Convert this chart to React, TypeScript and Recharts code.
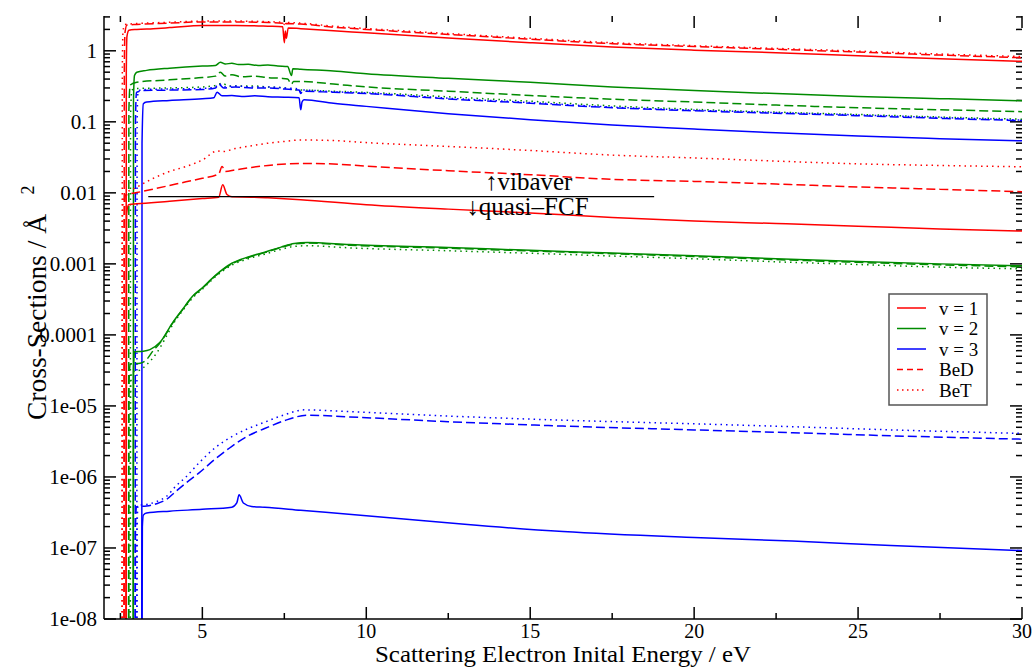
import React from 'react';
import { LineChart, Line, XAxis, YAxis, Legend, ReferenceLine, ReferenceDot } from 'recharts';

type Pt = [number, number];

// ---------- vibaver group (upper curves) ----------
const vibV1: Pt[] = [[2.67, 1e-10], [2.68, 0.5], [2.7, 1.6], [2.76, 1.95], [3.0, 2.0], [3.5, 2.05], [4.0, 2.12], [5.0, 2.28], [6.0, 2.28], [7.0, 2.22], [7.45, 2.18], [7.5, 1.3], [7.53, 1.9], [7.56, 1.5], [7.62, 2.1], [8.0, 2.05], [9.0, 1.92], [10, 1.79], [12.5, 1.52], [15, 1.3], [17.5, 1.13], [20, 1.02], [22.5, 0.94], [25, 0.85], [27.5, 0.77], [30, 0.71]];
const vibBeD1: Pt[] = [[2.61, 1e-10], [2.62, 0.6], [2.64, 1.8], [2.7, 2.3], [3.0, 2.35], [4.0, 2.45], [5.0, 2.55], [6.0, 2.55], [7.0, 2.5], [7.45, 2.45], [7.5, 2.25], [7.55, 2.42], [8.0, 2.38], [9.0, 2.15], [10, 2.0], [12.5, 1.7], [15, 1.46], [17.5, 1.26], [20, 1.15], [22.5, 1.05], [25, 0.96], [27.5, 0.87], [30, 0.8]];
const vibBeT1: Pt[] = [[2.55, 1e-10], [2.56, 0.6], [2.58, 1.9], [2.64, 2.35], [3.0, 2.42], [4.0, 2.52], [5.0, 2.62], [6.0, 2.62], [7.0, 2.57], [7.45, 2.52], [7.5, 2.35], [7.55, 2.5], [8.0, 2.45], [9.0, 2.22], [10, 2.06], [12.5, 1.75], [15, 1.5], [17.5, 1.3], [20, 1.18], [22.5, 1.08], [25, 0.99], [27.5, 0.9], [30, 0.83]];
const vibV2: Pt[] = [[2.89, 1e-10], [2.9, 0.2], [2.93, 0.45], [3.0, 0.5], [3.3, 0.53], [4.0, 0.57], [5.0, 0.61], [5.4, 0.62], [5.55, 0.69], [5.7, 0.65], [5.9, 0.67], [6.1, 0.64], [6.4, 0.645], [6.7, 0.62], [7.0, 0.63], [7.3, 0.61], [7.6, 0.6], [7.72, 0.45], [7.76, 0.56], [8.0, 0.55], [9.0, 0.52], [10, 0.475], [12.5, 0.41], [15, 0.36], [17.5, 0.31], [20, 0.275], [22.5, 0.25], [25, 0.228], [27.5, 0.212], [30, 0.198]];
const vibBeD2: Pt[] = [[2.75, 1e-10], [2.76, 0.15], [2.8, 0.33], [3.0, 0.36], [4.0, 0.39], [5.0, 0.42], [5.4, 0.44], [5.55, 0.5], [5.7, 0.44], [5.9, 0.46], [6.2, 0.43], [6.6, 0.44], [7.0, 0.42], [7.4, 0.41], [7.6, 0.4], [7.72, 0.34], [7.78, 0.37], [8.0, 0.37], [9.0, 0.34], [10, 0.31], [12.5, 0.27], [15, 0.235], [17.5, 0.208], [20, 0.19], [22.5, 0.172], [25, 0.158], [27.5, 0.148], [30, 0.139]];
const vibBeT2: Pt[] = [[2.8, 1e-10], [2.81, 0.12], [2.85, 0.28], [3.0, 0.295], [4.0, 0.3], [5.0, 0.31], [5.45, 0.33], [5.6, 0.35], [5.8, 0.32], [6.5, 0.32], [7.0, 0.31], [7.5, 0.3], [7.72, 0.285], [7.8, 0.28], [8.0, 0.28], [9.0, 0.27], [10, 0.26], [12.5, 0.225], [15, 0.195], [17.5, 0.168], [20, 0.15], [22.5, 0.137], [25, 0.127], [27.5, 0.117], [30, 0.109]];
const vibV3: Pt[] = [[3.15, 1e-10], [3.16, 0.05], [3.2, 0.18], [3.3, 0.19], [4.0, 0.2], [5.0, 0.211], [5.35, 0.218], [5.45, 0.26], [5.6, 0.232], [5.9, 0.235], [6.2, 0.228], [6.6, 0.232], [7.0, 0.225], [7.5, 0.222], [7.95, 0.218], [8.0, 0.148], [8.04, 0.19], [8.1, 0.205], [9.0, 0.182], [10, 0.165], [12.5, 0.13], [15, 0.107], [17.5, 0.09], [20, 0.079], [22.5, 0.07], [25, 0.063], [27.5, 0.058], [30, 0.054]];
const vibBeD3: Pt[] = [[2.95, 1e-10], [2.96, 0.1], [2.99, 0.26], [3.2, 0.275], [4.0, 0.28], [5.0, 0.285], [5.4, 0.3], [5.5, 0.34], [5.65, 0.3], [6.0, 0.31], [6.5, 0.3], [7.0, 0.3], [7.5, 0.29], [7.95, 0.28], [8.0, 0.25], [8.05, 0.27], [9.0, 0.26], [10, 0.25], [12.5, 0.21], [15, 0.183], [17.5, 0.158], [20, 0.143], [22.5, 0.132], [25, 0.122], [27.5, 0.112], [30, 0.104]];
const vibBeT3: Pt[] = [[3.0, 1e-10], [3.01, 0.1], [3.04, 0.27], [3.2, 0.285], [4.0, 0.29], [5.0, 0.295], [5.4, 0.31], [5.5, 0.345], [5.65, 0.31], [6.0, 0.32], [6.5, 0.31], [7.0, 0.31], [7.5, 0.3], [7.95, 0.29], [8.0, 0.26], [8.05, 0.28], [9.0, 0.265], [10, 0.255], [12.5, 0.215], [15, 0.187], [17.5, 0.161], [20, 0.146], [22.5, 0.135], [25, 0.125], [27.5, 0.115], [30, 0.106]];

// ---------- quasi-FCF group (lower curves) ----------
const fcfV1: Pt[] = [[2.67, 1e-10], [2.69, 0.005], [2.75, 0.0068], [3.0, 0.007], [4.0, 0.0076], [5.0, 0.0083], [5.5, 0.0087], [5.62, 0.013], [5.75, 0.0095], [5.9, 0.0088], [6.5, 0.0087], [7.0, 0.0085], [8.0, 0.008], [10, 0.0068], [12.5, 0.0059], [15, 0.0052], [17.5, 0.0045], [20, 0.004], [22.5, 0.0037], [25, 0.0034], [27.5, 0.0031], [30, 0.0029]];
const fcfBeD1: Pt[] = [[2.61, 1e-10], [2.62, 0.004], [2.65, 0.0092], [2.8, 0.0097], [3.0, 0.0101], [3.5, 0.0113], [4.0, 0.0127], [4.5, 0.0143], [5.0, 0.016], [5.5, 0.0185], [5.6, 0.0235], [5.7, 0.02], [6.0, 0.021], [6.5, 0.0228], [7.0, 0.0243], [8.0, 0.026], [9.0, 0.0255], [10, 0.0238], [12.5, 0.0205], [15, 0.018], [17.5, 0.0155], [20, 0.0145], [22.5, 0.0133], [25, 0.0121], [27.5, 0.0112], [30, 0.0104]];
const fcfBeT1: Pt[] = [[2.55, 1e-10], [2.56, 0.004], [2.6, 0.0092], [3.0, 0.012], [3.5, 0.016], [4.0, 0.02], [4.5, 0.0235], [5.0, 0.029], [5.47, 0.039], [5.6, 0.038], [6.0, 0.042], [6.5, 0.046], [7.0, 0.05], [7.5, 0.053], [8.0, 0.0555], [9.0, 0.0545], [10, 0.051], [12.5, 0.045], [15, 0.0395], [17.5, 0.034], [20, 0.031], [22.5, 0.028], [25, 0.0256], [27.5, 0.0243], [30, 0.0233]];
const fcfV2: Pt[] = [[2.89, 1e-10], [2.9, 3e-5], [2.93, 5.8e-5], [3.2, 5.9e-5], [3.4, 6.2e-5], [3.7, 7.8e-5], [4.1, 1.5e-4], [4.4, 2.3e-4], [4.7, 3.5e-4], [5.0, 4.6e-4], [5.4, 6.9e-4], [5.9, 1.02e-3], [6.4, 1.25e-3], [6.9, 1.46e-3], [7.4, 1.72e-3], [7.8, 1.93e-3], [8.2, 2.0e-3], [9.5, 1.87e-3], [12.5, 1.7e-3], [15, 1.55e-3], [17.5, 1.42e-3], [20, 1.3e-3], [22.5, 1.18e-3], [25, 1.08e-3], [27.5, 1.0e-3], [30, 9.4e-4]];
const fcfBeD2: Pt[] = [[2.75, 1e-10], [2.76, 2e-5], [2.8, 3.9e-5], [3.1, 4.0e-5], [3.3, 4.5e-5], [3.5, 6.0e-5], [3.7, 7.6e-5], [4.1, 1.48e-4], [4.4, 2.28e-4], [4.7, 3.45e-4], [5.0, 4.55e-4], [5.4, 6.8e-4], [5.9, 1.0e-3], [6.4, 1.23e-3], [6.9, 1.44e-3], [7.4, 1.7e-3], [7.8, 1.9e-3], [8.2, 1.96e-3], [9.5, 1.83e-3], [12.5, 1.66e-3], [15, 1.52e-3], [17.5, 1.39e-3], [20, 1.27e-3], [22.5, 1.15e-3], [25, 1.05e-3], [27.5, 9.7e-4], [30, 9.1e-4]];
const fcfBeT2: Pt[] = [[2.8, 1e-10], [2.81, 1.5e-5], [2.85, 3.0e-5], [3.1, 3.2e-5], [3.3, 3.8e-5], [3.6, 5.5e-5], [3.9, 9.5e-5], [4.1, 1.4e-4], [4.4, 2.2e-4], [4.7, 3.3e-4], [5.0, 4.4e-4], [5.4, 6.6e-4], [5.9, 9.6e-4], [6.4, 1.18e-3], [6.9, 1.37e-3], [7.4, 1.6e-3], [7.8, 1.76e-3], [8.2, 1.8e-3], [9.5, 1.68e-3], [12.5, 1.53e-3], [15, 1.41e-3], [17.5, 1.29e-3], [20, 1.18e-3], [22.5, 1.07e-3], [25, 9.8e-4], [27.5, 9.0e-4], [30, 8.5e-4]];
const fcfV3: Pt[] = [[3.15, 1e-10], [3.17, 2.0e-7], [3.2, 2.9e-7], [3.3, 3.1e-7], [4.0, 3.3e-7], [5.0, 3.5e-7], [5.9, 3.75e-7], [6.05, 4.3e-7], [6.12, 5.6e-7], [6.25, 4.3e-7], [6.5, 3.85e-7], [6.9, 3.75e-7], [8.0, 3.4e-7], [10, 2.85e-7], [13, 2.15e-7], [16, 1.7e-7], [20, 1.4e-7], [23, 1.25e-7], [26, 1.08e-7], [30, 9.2e-8]];
const fcfBeD3: Pt[] = [[2.95, 1e-10], [2.96, 2e-7], [2.99, 3.8e-7], [3.3, 3.9e-7], [3.6, 4.2e-7], [3.9, 4.8e-7], [4.2, 6.3e-7], [4.5, 8.2e-7], [4.9, 1.14e-6], [5.4, 1.8e-6], [5.9, 2.7e-6], [6.4, 3.8e-6], [6.9, 4.8e-6], [7.5, 6.2e-6], [8.2, 7.4e-6], [9.5, 7.0e-6], [12.5, 6.0e-6], [16, 5.2e-6], [20, 4.6e-6], [23, 4.2e-6], [26, 3.8e-6], [30, 3.4e-6]];
const fcfBeT3: Pt[] = [[3.0, 1e-10], [3.01, 2e-7], [3.04, 4.0e-7], [3.3, 4.1e-7], [3.6, 4.5e-7], [3.9, 5.3e-7], [4.2, 7.5e-7], [4.5, 1.0e-6], [4.9, 1.58e-6], [5.4, 2.6e-6], [5.9, 3.7e-6], [6.4, 4.8e-6], [6.9, 5.9e-6], [7.5, 7.5e-6], [8.1, 8.8e-6], [9.5, 8.3e-6], [12.5, 7.2e-6], [16, 6.3e-6], [20, 5.6e-6], [23, 5.1e-6], [26, 4.6e-6], [30, 4.1e-6]];

// ---------- axes ----------
const X_DOMAIN: [number, number] = [2, 30];
const xMajorTicks = [5, 10, 15, 20, 25, 30];
const xMinorTicks = [2.5, 7.5, 12.5, 17.5, 22.5, 27.5];
const Y_DOMAIN: [number, number] = [1e-8, 3.09];
const yMajorTicks = [1e-8, 1e-7, 1e-6, 1e-5, 1e-4, 1e-3, 1e-2, 1e-1, 1];
const yTickLabels = ['1e-08', '1e-07', '1e-06', '1e-05', '0.0001', '0.001', '0.01', '0.1', '1'];
const yMinorMultipliers = [2, 3, 4, 5, 6, 7, 8, 9];
const yMinorTicks: number[] = [];
yMajorTicks.forEach((d) => yMinorMultipliers.forEach((m) => { if (m * d <= Y_DOMAIN[1]) yMinorTicks.push(m * d); }));

// ---------- chart geometry (style) ----------
const CHART_W = 1036;
const CHART_H = 669;
const MARGIN = { top: 16, right: 14, bottom: 0, left: 0 };
const Y_AXIS_W = 104;
const X_AXIS_H = 50;
const PLOT_W = CHART_W - MARGIN.left - MARGIN.right - Y_AXIS_W;
const PLOT_H = CHART_H - MARGIN.top - MARGIN.bottom - X_AXIS_H;
const PX_PER_X = PLOT_W / (X_DOMAIN[1] - X_DOMAIN[0]);
const PX_PER_DECADE = PLOT_H / Math.log10(Y_DOMAIN[1] / Y_DOMAIN[0]);
const MAJOR_LEN = 12;
const MINOR_LEN = 6;

// inward tick marks (drawn through the chart's scales as reference segments)
type Seg = [{ x: number; y: number }, { x: number; y: number }];
const tickSegs: Seg[] = [];
const pushX = (t: number, len: number) => {
  const f = Math.pow(10, len / PX_PER_DECADE);
  tickSegs.push([{ x: t, y: Y_DOMAIN[0] }, { x: t, y: Y_DOMAIN[0] * f }]);
  tickSegs.push([{ x: t, y: Y_DOMAIN[1] }, { x: t, y: Y_DOMAIN[1] / f }]);
};
const pushY = (v: number, len: number) => {
  const dx = len / PX_PER_X;
  tickSegs.push([{ x: X_DOMAIN[0], y: v }, { x: X_DOMAIN[0] + dx, y: v }]);
  tickSegs.push([{ x: X_DOMAIN[1] - dx, y: v }, { x: X_DOMAIN[1], y: v }]);
};
xMajorTicks.forEach((t) => pushX(t, MAJOR_LEN));
xMinorTicks.forEach((t) => pushX(t, MINOR_LEN));
yMajorTicks.forEach((v) => pushY(v, MAJOR_LEN));
yMinorTicks.forEach((v) => pushY(v, MINOR_LEN));

// ---------- annotation ----------
const dividerY = 0.00887;
const dividerX: [number, number] = [3.35, 18.78];
const vibaverPos = { x: 13.62, y: 0.011 };
const fcfPos = { x: 13.05, y: 0.00482 };

// ---------- legend ----------
const legendLabels = ['v = 1', 'v = 2', 'v = 3', 'BeD', 'BeT'];

const RED = '#ff0000';
const GREEN = '#008b00';
const BLUE = '#0000ff';
const DASH = '9 4';
const DOT = '1.5 4';
const FONT = "'Liberation Serif', 'DejaVu Serif', serif";

const series = [
  { id: 'vibBeT1', pts: vibBeT1, color: RED, dash: DOT },
  { id: 'vibBeD1', pts: vibBeD1, color: RED, dash: DASH },
  { id: 'vibV1', pts: vibV1, color: RED, dash: undefined },
  { id: 'vibBeT2', pts: vibBeT2, color: GREEN, dash: DOT },
  { id: 'vibBeD2', pts: vibBeD2, color: GREEN, dash: DASH },
  { id: 'vibV2', pts: vibV2, color: GREEN, dash: undefined },
  { id: 'vibBeT3', pts: vibBeT3, color: BLUE, dash: DOT },
  { id: 'vibBeD3', pts: vibBeD3, color: BLUE, dash: DASH },
  { id: 'vibV3', pts: vibV3, color: BLUE, dash: undefined },
  { id: 'fcfBeT1', pts: fcfBeT1, color: RED, dash: DOT },
  { id: 'fcfBeD1', pts: fcfBeD1, color: RED, dash: DASH },
  { id: 'fcfV1', pts: fcfV1, color: RED, dash: undefined },
  { id: 'fcfBeT2', pts: fcfBeT2, color: GREEN, dash: DOT },
  { id: 'fcfBeD2', pts: fcfBeD2, color: GREEN, dash: DASH },
  { id: 'fcfV2', pts: fcfV2, color: GREEN, dash: undefined },
  { id: 'fcfBeT3', pts: fcfBeT3, color: BLUE, dash: DOT },
  { id: 'fcfBeD3', pts: fcfBeD3, color: BLUE, dash: DASH },
  { id: 'fcfV3', pts: fcfV3, color: BLUE, dash: undefined },
];
const legendStyles = [
  { color: RED, dash: undefined },
  { color: GREEN, dash: undefined },
  { color: BLUE, dash: undefined },
  { color: RED, dash: '6 4' },
  { color: RED, dash: '1.5 3.5' },
];

const toData = (pts: Pt[]) => pts.map(([x, y]) => ({ x, y }));

const AXIS_LINE = { stroke: '#000', strokeWidth: 1.5 };

const yLabelOf = (v: number) => {
  const idx = yMajorTicks.findIndex((t) => Math.abs(Math.log10(t) - Math.log10(v)) < 1e-6);
  return idx >= 0 ? yTickLabels[idx] : '';
};

const LeftLabel = (props: any) => {
  const { x, y, payload } = props;
  return (
    <text x={x} y={y} dy="0.35em" textAnchor="end" fontSize={21} fontFamily={FONT} fill="#000">
      {yLabelOf(payload.value)}
    </text>
  );
};
const BottomLabel = (props: any) => {
  const { x, y, payload } = props;
  return (
    <text x={x} y={y} dy="0.71em" textAnchor="middle" fontSize={20} fontFamily={FONT} fill="#000">
      {String(payload.value)}
    </text>
  );
};

const YTitle = () => (
  <g>
    <text transform="translate(46 420) rotate(-90)" x={0} y={0} textAnchor="start" fontSize={27} fontFamily={FONT} fill="#000"
      textLength={206} lengthAdjust="spacingAndGlyphs">
      Cross-Sections / Å
    </text>
    <text transform="translate(34 190) rotate(-90)" x={0} y={0} textAnchor="middle" fontSize={18} fontFamily={FONT} fill="#000">
      2
    </text>
  </g>
);
const XTitle = () => (
  <text x={563} y={662} textAnchor="middle" fontSize={24} fontFamily={FONT} fill="#000"
    textLength={376} lengthAdjust="spacingAndGlyphs">
    Scattering Electron Inital Energy / eV
  </text>
);

const LegendBox = () => (
  <svg width={100} height={113} style={{ display: 'block' }}>
    <rect x={1} y={1} width={98} height={111} fill="#fff" stroke="#555" strokeWidth={1.5} />
    {legendLabels.map((lab, i) => {
      const yy = 15 + i * 20.5;
      return (
        <g key={lab}>
          <line x1={9} x2={38} y1={yy} y2={yy} stroke={legendStyles[i].color} strokeWidth={1.5} strokeDasharray={legendStyles[i].dash} />
          <text x={51} y={yy} dy="0.35em" fontSize={19} fontFamily={FONT} fill="#000">{lab}</text>
        </g>
      );
    })}
  </svg>
);

export default function App() {
  return (
    <div style={{ position: 'fixed', left: 0, top: 0, background: '#fff' }}>
      <LineChart width={CHART_W} height={CHART_H} margin={MARGIN}>
        <XAxis type="number" dataKey="x" domain={X_DOMAIN} allowDataOverflow ticks={xMajorTicks} interval={0}
          tick={(p: any) => <BottomLabel {...p} />} tickLine={false} tickSize={0} tickMargin={5} height={X_AXIS_H}
          axisLine={AXIS_LINE} label={<XTitle />} />
        <XAxis xAxisId="top" orientation="top" type="number" dataKey="x" domain={X_DOMAIN} allowDataOverflow ticks={xMajorTicks}
          tick={false} tickLine={false} height={0} axisLine={AXIS_LINE} />
        <YAxis type="number" scale="log" domain={Y_DOMAIN} allowDataOverflow ticks={yMajorTicks} interval={0}
          tick={(p: any) => <LeftLabel {...p} />} tickLine={false} tickSize={0} tickMargin={7} width={Y_AXIS_W}
          axisLine={AXIS_LINE} label={<YTitle />} />
        <YAxis yAxisId="right" orientation="right" type="number" scale="log" domain={Y_DOMAIN} allowDataOverflow ticks={yMajorTicks}
          tick={false} tickLine={false} width={0} axisLine={AXIS_LINE} />
        {tickSegs.map((seg, i) => (
          <ReferenceLine key={`t${i}`} segment={seg} stroke="#000" strokeWidth={1.5} ifOverflow="visible" />
        ))}
        {series.map((s) => (
          <Line
            key={s.id}
            data={toData(s.pts)}
            dataKey="y"
            type="monotone"
            stroke={s.color}
            strokeWidth={1.5}
            strokeDasharray={s.dash}
            dot={false}
            activeDot={false}
            legendType="none"
            isAnimationActive={false}
          />
        ))}
        <ReferenceLine
          segment={[{ x: dividerX[0], y: dividerY }, { x: dividerX[1], y: dividerY }]}
          stroke="#000"
          strokeWidth={1.2}
        />
        <ReferenceDot
          x={vibaverPos.x}
          y={vibaverPos.y}
          r={0}
          shape={(p: any) => (
            <text x={p.cx} y={p.cy} fontSize={25} fontFamily={FONT} fill="#000">↑vibaver</text>
          )}
        />
        <ReferenceDot
          x={fcfPos.x}
          y={fcfPos.y}
          r={0}
          shape={(p: any) => (
            <text x={p.cx} y={p.cy} fontSize={25} fontFamily={FONT} fill="#000">↓quasi–FCF</text>
          )}
        />
        <Legend
          layout="vertical"
          align="center"
          verticalAlign="middle"
          content={<LegendBox />}
          wrapperStyle={{ left: 888, top: 293, width: 100, height: 113 }}
        />
      </LineChart>
    </div>
  );
}
